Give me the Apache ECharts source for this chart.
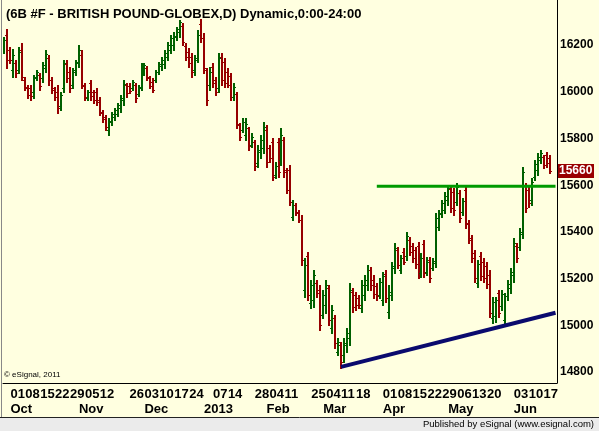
<!DOCTYPE html>
<html>
<head>
<meta charset="utf-8">
<script src="https://cdn.jsdelivr.net/npm/echarts@6/dist/echarts.min.js"></script>
<style>
  html, body { margin: 0; padding: 0; background: #ffffe0; }
  #chart { width: 599px; height: 431px; }
</style>
</head>
<body>
<div id="chart"></div>
<script>
// trading days per month (6B daily bars)
var tradingDays = [
	['2012-09', [27, 28]],
	['2012-10', [1, 2, 3, 4, 5, 8, 9, 10, 11, 12, 15, 16, 17, 18, 19, 22, 23, 24, 25, 26, 29, 30, 31]],
	['2012-11', [1, 2, 5, 6, 7, 8, 9, 12, 13, 14, 15, 16, 19, 20, 21, 22, 23, 26, 27, 28, 29, 30]],
	['2012-12', [3, 4, 5, 6, 7, 10, 11, 12, 13, 14, 17, 18, 19, 20, 21, 24, 26, 27, 28, 31]],
	['2013-01', [2, 3, 4, 7, 8, 9, 10, 11, 14, 15, 16, 17, 18, 22, 23, 24, 25, 28, 29, 30, 31]],
	['2013-02', [1, 4, 5, 6, 7, 8, 11, 12, 13, 14, 15, 19, 20, 21, 22, 25, 26, 27, 28]],
	['2013-03', [1, 4, 5, 6, 7, 8, 11, 12, 13, 14, 15, 18, 19, 20, 21, 22, 25, 26, 27, 28]],
	['2013-04', [1, 2, 3, 4, 5, 8, 9, 10, 11, 12, 15, 16, 17, 18, 19, 22, 23, 24, 25, 26, 29, 30]],
	['2013-05', [1, 2, 3, 6, 7, 8, 9, 10, 13, 14, 15, 16, 17, 20, 21, 22, 23, 24, 28, 29, 30, 31]],
	['2013-06', [3, 4, 5, 6, 7, 10, 11, 12, 13, 14, 17, 18, 19]]
];

// day labels shown under the axis
var weekLabels = ['2012-10-01', '2012-10-08', '2012-10-15', '2012-10-22', '2012-10-29', '2012-11-05', '2012-11-12',
	'2012-11-26', '2012-12-03', '2012-12-10', '2012-12-17', '2012-12-24', '2013-01-07', '2013-01-14',
	'2013-01-28', '2013-02-04', '2013-02-11', '2013-02-25', '2013-03-04', '2013-03-11', '2013-03-18',
	'2013-04-01', '2013-04-08', '2013-04-15', '2013-04-22', '2013-04-29', '2013-05-06', '2013-05-13', '2013-05-20',
	'2013-06-03', '2013-06-10', '2013-06-17'];

var monthLabels = {
	'2012-10-01': 'Oct', '2012-11-01': 'Nov', '2012-12-03': 'Dec', '2013-01-02': '2013', '2013-02-01': 'Feb',
	'2013-03-01': 'Mar', '2013-04-01': 'Apr', '2013-05-01': 'May', '2013-06-03': 'Jun'
};

var opens = [
	16179, 16243, 16179, 16093, 16123, 16093, 16179, 16050, 16020, 16016,
	15999, 16063, 16072, 16059, 16102, 16145, 16050, 16016, 15999, 15939,
	16016, 16119, 16085, 16029, 16085, 16123, 16157, 16025, 15973, 16038,
	15999, 15999, 15965, 15913, 15892, 15836, 15871, 15892, 15905, 15931,
	15965, 16029, 16025, 16016, 16029, 15990, 16020, 16085, 16102, 16059,
	16042, 16050, 16085, 16110, 16119, 16149, 16179, 16200, 16235, 16256,
	16282, 16196, 16170, 16149, 16093, 16145, 16290, 16230, 16093, 16029,
	16106, 16050, 16016, 16149, 16128, 16085, 16068, 15978, 15990, 15858,
	15836, 15815, 15845, 15772, 15785, 15695, 15742, 15759, 15836, 15759,
	15785, 15644, 15785, 15708, 15794, 15665, 15665, 15464, 15515, 15485,
	15451, 15151, 15297, 15096, 15109, 15181, 15151, 15044, 15087, 15160,
	14989, 15032, 14886, 14916, 14873, 14916, 14946, 15143, 15130, 15117,
	15074, 15130, 15173, 15237, 15194, 15168, 15130, 15109, 15220, 15057,
	15130, 15246, 15323, 15237, 15314, 15297, 15365, 15340, 15323, 15340,
	15224, 15348, 15228, 15280, 15246, 15267, 15421, 15477, 15494, 15537,
	15584, 15571, 15528, 15567, 15485, 15580, 15434, 15374, 15310, 15181,
	15297, 15271, 15254, 15216, 15032, 15040, 15139, 15083, 15023, 15126,
	15160, 15216, 15340, 15335, 15391, 15597, 15580, 15537, 15635, 15665,
	15708, 15721, 15729, 15716
];
var highs = [
	16235, 16269, 16192, 16183, 16136, 16192, 16209, 16063, 16029, 16029,
	16072, 16093, 16080, 16128, 16179, 16157, 16063, 16020, 16029, 15999,
	16136, 16136, 16106, 16102, 16136, 16200, 16179, 16038, 16008, 16050,
	16008, 16016, 15978, 15922, 15901, 15888, 15913, 15931, 15952, 15986,
	16050, 16038, 16038, 16050, 16038, 16029, 16123, 16123, 16110, 16068,
	16059, 16093, 16128, 16149, 16179, 16213, 16243, 16256, 16277, 16307,
	16294, 16209, 16187, 16166, 16157, 16265, 16312, 16252, 16102, 16106,
	16123, 16063, 16166, 16166, 16145, 16102, 16080, 16038, 15999, 15866,
	15888, 15888, 15849, 15824, 15794, 15772, 15815, 15871, 15858, 15772,
	15802, 15699, 15802, 15845, 15806, 15674, 15687, 15537, 15524, 15494,
	15472, 15288, 15314, 15194, 15237, 15194, 15173, 15151, 15194, 15173,
	15087, 15044, 14946, 14929, 14946, 14989, 15181, 15160, 15143, 15130,
	15194, 15216, 15258, 15250, 15216, 15181, 15203, 15228, 15237, 15173,
	15271, 15353, 15335, 15301, 15331, 15400, 15378, 15353, 15335, 15357,
	15310, 15365, 15293, 15293, 15288, 15481, 15494, 15537, 15571, 15601,
	15597, 15588, 15609, 15580, 15545, 15597, 15451, 15387, 15323, 15280,
	15314, 15288, 15271, 15237, 15121, 15121, 15151, 15151, 15139, 15194,
	15246, 15374, 15353, 15417, 15678, 15609, 15592, 15631, 15708, 15738,
	15751, 15729, 15742, 15729
];
var lows = [
	16166, 16102, 16123, 16063, 16063, 16080, 16050, 16008, 15973, 15965,
	15973, 16050, 16008, 16042, 16085, 16029, 15995, 15965, 15909, 15922,
	15999, 16042, 15999, 16016, 16072, 16106, 16016, 15965, 15965, 15965,
	15952, 15943, 15901, 15871, 15836, 15815, 15858, 15879, 15896, 15913,
	15943, 15978, 15995, 16008, 15956, 15982, 16008, 16072, 16050, 16016,
	15999, 16042, 16076, 16093, 16102, 16136, 16166, 16179, 16222, 16235,
	16200, 16136, 16106, 16063, 16072, 16128, 16213, 16080, 15943, 16008,
	16020, 15986, 15999, 16029, 16020, 16020, 15965, 15965, 15845, 15794,
	15828, 15794, 15751, 15764, 15665, 15678, 15716, 15738, 15678, 15699,
	15622, 15631, 15635, 15687, 15635, 15567, 15515, 15451, 15472, 15443,
	15258, 15121, 15109, 15074, 15079, 15121, 14980, 15032, 15053, 15002,
	14967, 14903, 14873, 14817, 14843, 14886, 14916, 15057, 15066, 15074,
	15057, 15109, 15151, 15151, 15117, 15109, 15117, 15087, 15100, 15032,
	15109, 15224, 15246, 15224, 15263, 15280, 15301, 15271, 15246, 15203,
	15207, 15207, 15216, 15186, 15237, 15250, 15408, 15464, 15481, 15515,
	15485, 15472, 15515, 15443, 15472, 15417, 15353, 15271, 15186, 15164,
	15194, 15186, 15160, 15036, 15010, 15014, 15036, 15066, 15002, 15109,
	15139, 15186, 15271, 15323, 15374, 15485, 15507, 15515, 15622, 15644,
	15695, 15674, 15678, 15652
];
var closes = [
	16222, 16136, 16136, 16157, 16080, 16170, 16063, 16016, 15986, 15982,
	16059, 16085, 16025, 16115, 16162, 16050, 16008, 15978, 15931, 15986,
	16123, 16059, 16016, 16093, 16128, 16179, 16029, 15978, 15999, 15982,
	15965, 15956, 15909, 15883, 15849, 15875, 15905, 15922, 15943, 15973,
	16033, 15995, 16003, 16042, 15973, 16016, 16106, 16115, 16063, 16025,
	16008, 16085, 16119, 16136, 16166, 16200, 16230, 16239, 16269, 16299,
	16213, 16149, 16123, 16085, 16136, 16243, 16230, 16102, 15965, 16085,
	16038, 15999, 16145, 16050, 16038, 16029, 15978, 16020, 15862, 15806,
	15871, 15862, 15768, 15806, 15682, 15751, 15794, 15849, 15699, 15716,
	15635, 15682, 15657, 15815, 15657, 15580, 15528, 15515, 15481, 15451,
	15280, 15258, 15130, 15173, 15216, 15139, 15002, 15130, 15173, 15023,
	15066, 14925, 14929, 14843, 14925, 14967, 15151, 15079, 15087, 15087,
	15173, 15194, 15237, 15173, 15134, 15126, 15186, 15211, 15117, 15143,
	15254, 15331, 15258, 15288, 15271, 15383, 15314, 15288, 15263, 15220,
	15288, 15224, 15271, 15203, 15276, 15460, 15481, 15524, 15554, 15588,
	15502, 15494, 15592, 15460, 15532, 15438, 15365, 15288, 15203, 15263,
	15211, 15203, 15177, 15053, 15100, 15109, 15053, 15134, 15126, 15177,
	15228, 15353, 15288, 15400, 15657, 15502, 15524, 15614, 15691, 15721,
	15738, 15687, 15695, 15660
];

// hand drawn lines: [bar index, price]
var resistanceLine = [[125, 15595], [185, 15595]];
var supportLine = [[113, 14822], [185, 15054]];

var yMin = 14753, yMax = 16393;
var lastClose = closes[closes.length - 1];

var GREEN = '#006000', RED = '#960000';

var dates = [];
tradingDays.forEach(function(m) {
	m[1].forEach(function(d) {
		dates.push(m[0] + '-' + (d < 10 ? '0' + d : d));
	});
});
// empty room at the right edge
var categories = dates.concat(['pad1', 'pad2']);

var ohlc = dates.map(function(d, i) {
	return [i, opens[i], highs[i], lows[i], closes[i]];
});

// OHLC bar: high-low stem, open tick left, close tick right
function renderBar(params, api) {
	var i = api.value(0);
	var o = api.coord([i, api.value(1)]);
	var h = api.coord([i, api.value(2)]);
	var l = api.coord([i, api.value(3)]);
	var c = api.coord([i, api.value(4)]);
	var x = Math.round(h[0]);
	var oy = Math.round(o[1]) + 0.5, cy = Math.round(c[1]) + 0.5;
	var color = api.value(4) >= api.value(1) ? GREEN : RED;
	return {
		type : 'group',
		children : [
			{ type : 'line', shape : { x1 : x, y1 : Math.round(h[1]), x2 : x, y2 : Math.round(l[1]) + 1 }, style : { stroke : color, lineWidth : 2 } },
			{ type : 'line', shape : { x1 : x - 2, y1 : oy, x2 : x, y2 : oy }, style : { stroke : color, lineWidth : 1 } },
			{ type : 'line', shape : { x1 : x, y1 : cy, x2 : x + 2, y2 : cy }, style : { stroke : color, lineWidth : 1 } }
		]
	};
}

var myChart = echarts.init(document.getElementById('chart'));
var axisFont = { fontFamily : 'Liberation Sans', fontWeight : 'bold', color : '#000' };

var option = {
	backgroundColor : '#ffffe0',
	animation : false,
	title : {
		text : '(6B #F - BRITISH POUND-GLOBEX,D) Dynamic,0:00-24:00',
		left : 1,
		top : 3,
		textStyle : { fontFamily : 'Liberation Sans', fontWeight : 'bold', fontSize : 13, color : '#000' }
	},
	grid : { left : 3, right : 42, top : 0, bottom : 48 },
	xAxis : [ {
		type : 'category',
		data : categories,
		boundaryGap : true,
		axisLine : { lineStyle : { color : '#000', width : 1 } },
		axisTick : {
			inside : true, length : 3, alignWithLabel : true,
			interval : function(idx, val) { return weekLabels.indexOf(val) >= 0; },
			lineStyle : { color : '#000' }
		},
		axisLabel : Object.assign({
			fontSize : 13, margin : 5, align : 'left',
			interval : function(idx, val) { return weekLabels.indexOf(val) >= 0; },
			formatter : function(val) { return val.slice(8); }
		}, axisFont),
		splitLine : { show : false }
	}, {
		type : 'category',
		data : categories,
		position : 'bottom',
		offset : 15,
		axisLine : { show : false },
		axisTick : { show : false },
		axisLabel : Object.assign({
			fontSize : 13, margin : 5, align : 'left',
			interval : function(idx, val) { return monthLabels[val] !== undefined; },
			formatter : function(val) { return monthLabels[val] || ''; }
		}, axisFont)
	}, {
		type : 'category',
		data : categories,
		position : 'bottom',
		axisLine : { show : false },
		axisTick : {
			inside : true, length : 6, alignWithLabel : true,
			interval : function(idx, val) { return monthLabels[val] !== undefined; },
			lineStyle : { color : '#000' }
		},
		axisLabel : { show : false }
	} ],
	yAxis : {
		type : 'value',
		position : 'right',
		min : yMin,
		max : yMax,
		minInterval : 200,
		maxInterval : 200,
		axisLine : { show : true, lineStyle : { color : '#000', width : 1 } },
		axisTick : { show : false },
		splitLine : { show : false },
		axisLabel : Object.assign({
			fontSize : 12, margin : 3, showMinLabel : false, showMaxLabel : false,
			formatter : function(v) { return v % 200 === 0 ? String(v) : ''; }
		}, axisFont)
	},
	series : [ {
		name : '6B',
		type : 'custom',
		renderItem : renderBar,
		encode : { x : 0, y : [1, 2, 3, 4] },
		data : ohlc,
		clip : true
	}, {
		name : 'resistance',
		type : 'line',
		data : resistanceLine,
		symbol : 'none',
		lineStyle : { color : '#009a00', width : 3 },
		z : 5
	}, {
		name : 'support',
		type : 'line',
		data : supportLine,
		symbol : 'none',
		lineStyle : { color : '#0a0a6e', width : 4 },
		z : 5
	} ]
};
myChart.setOption(option);

// price tag + footer
var tagY = myChart.convertToPixel({ yAxisIndex : 0 }, lastClose);
myChart.setOption({
	graphic : [
		{ type : 'line', shape : { x1 : 1.5, y1 : 0, x2 : 1.5, y2 : 417 }, style : { stroke : '#888', lineWidth : 1 } },
		{ type : 'rect', shape : { x : 0, y : 417, width : 599, height : 14 }, style : { fill : '#ebebeb' } },
		{ type : 'line', shape : { x1 : 0, y1 : 417.5, x2 : 599, y2 : 417.5 }, style : { stroke : '#222', lineWidth : 1 } },
		{ type : 'text', right : 5, top : 419,
			style : { text : 'Published by eSignal (www.esignal.com)', fontFamily : 'Liberation Sans', fontSize : 9.5, fill : '#000' } },
		{ type : 'text', left : 4, top : 371,
			style : { text : '\u00a9 eSignal, 2011', fontFamily : 'Liberation Sans', fontSize : 8, fill : '#000' } },
		{ type : 'rect', shape : { x : 558, y : Math.round(tagY) - 7, width : 36, height : 14 }, style : { fill : '#990000' } },
		{ type : 'text', left : 559, top : Math.round(tagY) - 6,
			style : { text : String(lastClose), fontFamily : 'Liberation Sans', fontWeight : 'bold', fontSize : 12, fill : '#fff' } }
	]
});
</script>
</body>
</html>
